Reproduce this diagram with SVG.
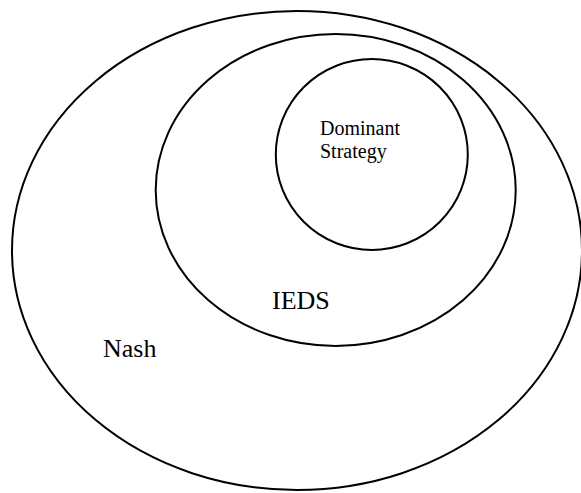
<svg xmlns="http://www.w3.org/2000/svg" width="581" height="493" viewBox="0 0 581 493">
<style>
.set{fill:none;stroke:#000;stroke-width:2}
.lbl{font-family:"Liberation Serif","Times New Roman",serif;fill:#000}
</style>
<rect width="581" height="493" fill="#fff"/>
<g id="nash">
<ellipse class="set" cx="297" cy="250.5" rx="285" ry="239.5"/>
<text class="lbl" x="103" y="357" font-size="26">Nash</text>
</g>
<g id="ieds">
<ellipse class="set" cx="335.7" cy="190" rx="180" ry="156"/>
<text class="lbl" x="272" y="309" font-size="26">IEDS</text>
</g>
<g id="dominant">
<ellipse class="set" cx="371.8" cy="154.5" rx="96" ry="95.5"/>
<text class="lbl" x="320" y="135" font-size="20">Dominant</text>
<text class="lbl" x="320" y="158" font-size="20">Strategy</text>
</g>
<g id="connectors"/>
</svg>
